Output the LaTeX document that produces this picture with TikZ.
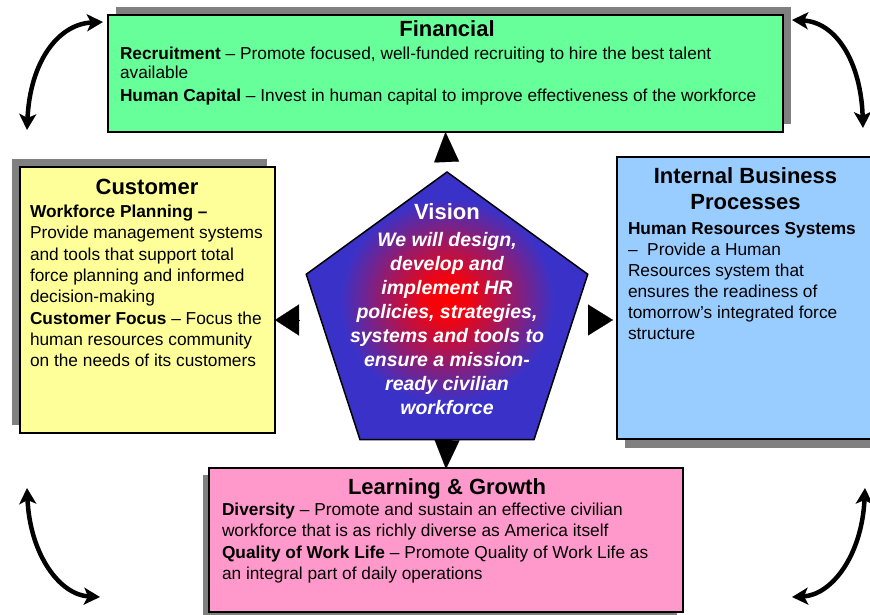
\documentclass[tikz,border=0pt]{standalone}
\usepackage{fontspec}
\setmainfont{Liberation Sans}
\usetikzlibrary{shapes.geometric,arrows.meta,shadows}
\definecolor{fingreen}{RGB}{102,255,153}
\definecolor{custyellow}{RGB}{255,255,153}
\definecolor{intblue}{RGB}{153,204,255}
\definecolor{learnpink}{RGB}{255,153,204}
\definecolor{shadowgray}{RGB}{128,128,128}
\definecolor{vblue}{RGB}{58,50,200}
\pgfdeclareradialshading{visionshade}{\pgfpoint{0bp}{1.5bp}}{color(0bp)=(red); color(4bp)=(red!92!vblue); color(11bp)=(red!50!vblue); color(19bp)=(vblue); color(50bp)=(vblue)}
\begin{document}
\begin{tikzpicture}[x=1pt,y=-1pt,
  box/.style={draw=black, line width=2pt, rectangle, inner sep=0pt, outer sep=0pt, anchor=north west},
  title/.style={font=\fontsize{22}{26}\selectfont\bfseries, inner sep=0pt, outer sep=0pt, text=black, align=center},
  body/.style={font=\fontsize{17.3}{21.3}\selectfont, inner sep=0pt, outer sep=0pt, align=left, anchor=north west, text=black},
  tri/.style={draw=black, line width=0.1pt},
  cur/.style={line width=4.5pt, {Stealth[length=16pt,width=17pt,inset=4pt]}-{Stealth[length=16pt,width=17pt,inset=4pt]}}
]
\useasboundingbox (0,0) rectangle (870,615);

% boxes
\node[box, fill=fingreen, minimum width=675pt, minimum height=117pt,
  drop shadow={shadow xshift=8pt, shadow yshift=8pt, fill=shadowgray, opacity=1}] (fin) at (108,15) {};
\node[box, fill=custyellow, minimum width=255pt, minimum height=266pt,
  drop shadow={shadow xshift=-8pt, shadow yshift=8pt, fill=shadowgray, opacity=1}] (cust) at (20,167) {};
\node[box, fill=intblue, minimum width=263pt, minimum height=282pt,
  drop shadow={shadow xshift=8pt, shadow yshift=-9pt, fill=shadowgray, opacity=1}] (intb) at (617,157) {};
\node[box, fill=learnpink, minimum width=474pt, minimum height=144pt,
  drop shadow={shadow xshift=-6pt, shadow yshift=-7pt, fill=shadowgray, opacity=1}] (learn) at (209,468) {};

% vision pentagon
\node[regular polygon, regular polygon sides=5, minimum size=296pt, draw=black, line width=1.5pt,
  shade, shading=visionshade, inner sep=0pt, outer sep=0pt] (vision) at (447,320) {};

% texts
\node[title, anchor=base] (fintitle) at (447,37) {Financial};
\node[body, font=\fontsize{17.3}{19}\selectfont] (finbody) at (120,47)
  {\textbf{Recruitment} – Promote focused, well-funded recruiting to hire the best talent\\
   available\\[4pt]
   \textbf{Human Capital} – Invest in human capital to improve effectiveness of the workforce};

\node[title, anchor=base] (custtitle) at (147,194) {Customer};
\node[body] (custbody) at (30,205)
  {\textbf{Workforce Planning –}\\
   Provide management systems\\
   and tools that support total\\
   force planning and informed\\
   decision-making\\
   \textbf{Customer Focus} – Focus the\\
   human resources community\\
   on the needs of its customers};

\node[title, anchor=north] (inttitle) at (745.5,168) {Internal Business\\Processes};
\node[body, font=\fontsize{17.3}{21}\selectfont] (intbody) at (628,222)
  {\textbf{Human Resources Systems}\\
   –\ \ Provide a Human\\
   Resources system that\\
   ensures the readiness of\\
   tomorrow’s integrated force\\
   structure};

\node[title, anchor=base] (learntitle) at (447,494) {Learning \& Growth};
\node[body] (learnbody) at (222,503)
  {\textbf{Diversity} – Promote and sustain an effective civilian\\
   workforce that is as richly diverse as America itself\\
   \textbf{Quality of Work Life} – Promote Quality of Work Life as\\
   an integral part of daily operations};

\node[title, anchor=base, text=white] (vtitle) at (447,219) {Vision};
\node[font=\fontsize{19.5}{24}\selectfont\bfseries\itshape, text=white, align=center,
  inner sep=0pt, outer sep=0pt, anchor=north] (vbody) at (447,232)
  {We will design,\\
   develop and\\
   implement HR\\
   policies, strategies,\\
   systems and tools to\\
   ensure a mission-\\
   ready civilian\\
   workforce};

% triangles from the vision
\draw[tri, -{Triangle[length=30pt,width=25pt]}, shorten <=10pt] (vision.corner 1) -- (fin.south);
\draw[tri, -{Triangle[length=29pt,width=25pt]}, shorten >=-1pt] (vision.south) -- (learn.north);
\draw[tri, -{Triangle[length=24pt,width=31pt]}, shorten <=22pt] (vision.west) -- (vision.west -| cust.east);
\draw[tri, -{Triangle[length=25pt,width=31pt]}, shorten <=15pt, shorten >=4pt] (vision.east) -- (vision.east -| intb.west);

% corner cycle arrows
\coordinate (tlA) at (27,130);
\coordinate (tlB) at (103,22);
\coordinate (trA) at (792,20);
\coordinate (trB) at (863,128);
\coordinate (blA) at (27,488);
\coordinate (blB) at (100,597);
\coordinate (brA) at (865,488);
\coordinate (brB) at (792,597);
\draw[cur] (tlA) .. controls (30,62) and (58,24) .. (tlB);
\draw[cur] (trA) .. controls (836,22) and (861,62) .. (trB);
\draw[cur] (blA) .. controls (30,555) and (60,595) .. (blB);
\draw[cur] (brA) .. controls (862,555) and (832,595) .. (brB);
\end{tikzpicture}
\end{document}
